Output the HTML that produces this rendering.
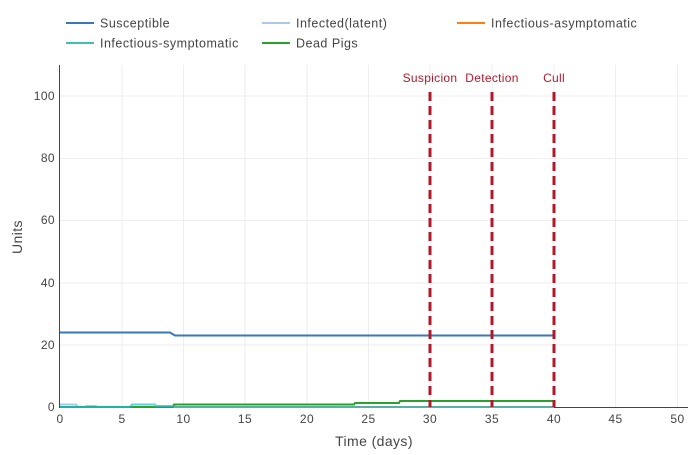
<!DOCTYPE html>
<html><head><style>body{margin:0;background:#fff}svg text{font-family:"Liberation Sans",sans-serif}</style></head><body>
<svg width="700" height="450" xmlns="http://www.w3.org/2000/svg">
<g stroke="#eee" stroke-width="1">
<line x1="122" y1="65" x2="122" y2="407"/><line x1="183.5" y1="65" x2="183.5" y2="407"/><line x1="245" y1="65" x2="245" y2="407"/><line x1="307" y1="65" x2="307" y2="407"/><line x1="368.5" y1="65" x2="368.5" y2="407"/><line x1="430" y1="65" x2="430" y2="407"/><line x1="492" y1="65" x2="492" y2="407"/><line x1="554" y1="65" x2="554" y2="407"/><line x1="615.5" y1="65" x2="615.5" y2="407"/><line x1="677.5" y1="65" x2="677.5" y2="407"/>
<line x1="60" y1="345" x2="688" y2="345"/><line x1="60" y1="283" x2="688" y2="283"/><line x1="60" y1="220.5" x2="688" y2="220.5"/><line x1="60" y1="158.5" x2="688" y2="158.5"/><line x1="60" y1="96" x2="688" y2="96"/>
</g>
<line x1="59.5" y1="65" x2="59.5" y2="408" stroke="#444"/>
<line x1="59" y1="407.5" x2="688" y2="407.5" stroke="#444"/>
<g font-size="12" fill="#444" text-anchor="end" letter-spacing="0.4">
<text x="55" y="411">0</text><text x="55" y="349">20</text><text x="55" y="287">40</text><text x="55" y="224">60</text><text x="55" y="162">80</text><text x="55" y="100">100</text></g>
<g font-size="12" fill="#444" text-anchor="middle" letter-spacing="0.4">
<text x="60" y="423">0</text><text x="122" y="423">5</text><text x="183.5" y="423">10</text><text x="245" y="423">15</text><text x="307" y="423">20</text><text x="368.5" y="423">25</text><text x="430" y="423">30</text><text x="492" y="423">35</text><text x="554" y="423">40</text><text x="615.5" y="423">45</text><text x="677.5" y="423">50</text></g>
<text x="374" y="446" font-size="14" fill="#444" text-anchor="middle" letter-spacing="0.4">Time (days)</text>
<text x="22" y="237" font-size="14" fill="#444" text-anchor="middle" letter-spacing="0.4" transform="rotate(-90 22 237)">Units</text>
<g fill="none" stroke-width="2">
<polyline stroke="#aec7e8" points="60,404.5 76,404.5 78,407 85,407 86,406 96,406 97,407 554,407"/>
<polyline stroke="#ff7f0e" points="60,407 554,407" stroke-width="1.5"/>
<polyline stroke="#2ca02c" points="60,407 173,407 174,404.5 354,404.5 355,403 399,403 400,401 554,401"/>
<polyline stroke="#17becf" stroke-opacity="0.7" points="60,407 130,407 132,404.5 155,404.5 156,406 175,406 176,407 554,407"/>
<polyline stroke="#3a76b8" points="60,332.5 170,332.5 175,335.5 554,335.5"/>
</g>
<g stroke="#b2182b" stroke-width="3" stroke-dasharray="9,5">
<line x1="430" y1="92" x2="430" y2="407"/><line x1="492" y1="92" x2="492" y2="407"/><line x1="554" y1="92" x2="554" y2="407"/></g>
<g font-size="12" fill="#b2182b" text-anchor="middle" letter-spacing="0.3">
<text x="430" y="82">Suspicion</text><text x="492" y="82">Detection</text><text x="554" y="82">Cull</text></g>
<g stroke-width="2">
<line x1="66" y1="23" x2="94" y2="23" stroke="#3a76b8"/><line x1="262" y1="23" x2="290" y2="23" stroke="#aec7e8"/><line x1="457" y1="23" x2="485" y2="23" stroke="#ff7f0e"/>
<line x1="66" y1="43" x2="94" y2="43" stroke="#40c0b0"/><line x1="262" y1="43" x2="290" y2="43" stroke="#2ca02c"/></g>
<g font-size="12.5" fill="#444" letter-spacing="0.5">
<text x="100" y="27.5">Susceptible</text><text x="296" y="27.5">Infected(latent)</text><text x="491" y="27.5">Infectious-asymptomatic</text>
<text x="100" y="47.5">Infectious-symptomatic</text><text x="296" y="47.5">Dead Pigs</text></g>
</svg>
</body></html>
